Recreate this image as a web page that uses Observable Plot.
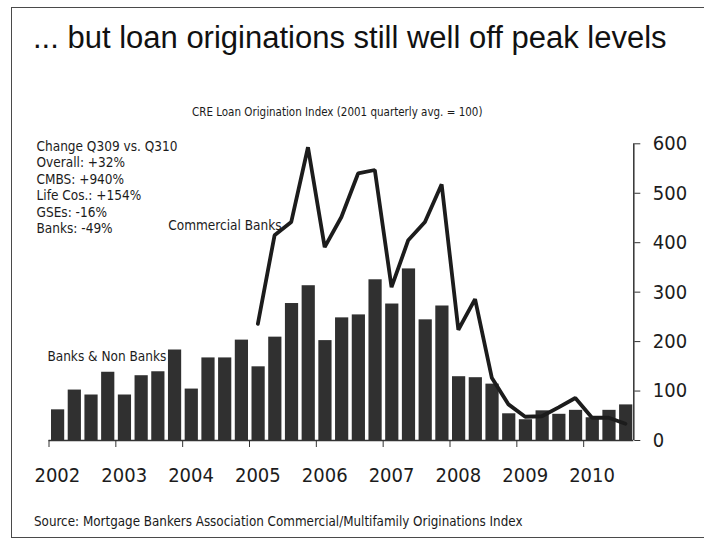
<!DOCTYPE html>
<html>
<head>
<meta charset="utf-8">
<script src="https://cdn.jsdelivr.net/npm/d3@7"></script>
<script src="https://cdn.jsdelivr.net/npm/@observablehq/plot@0.6"></script>
<style>
  body { margin: 0; background: #fff; }
  #slide { position: relative; width: 704px; height: 540px; overflow: hidden; background: #fff;
           font-family: "DejaVu Sans Condensed", "DejaVu Sans", sans-serif; color: #1a1a1a; }
  #frame { position: absolute; left: 11px; top: 7px; width: 720px; height: 531px; border: 1.5px solid #4a4a4a; box-sizing: border-box; }
  #title { position: absolute; left: 33px; top: 22px; font-family: "Liberation Sans", Arial, sans-serif;
           font-size: 31px; line-height: 1; white-space: nowrap; color: #111; }
  #subtitle { position: absolute; left: 192px; top: 107px; font-size: 11.5px; line-height: 1; white-space: nowrap; }
  #source { position: absolute; left: 34px; top: 515px; font-size: 13.3px; line-height: 1; white-space: nowrap; }
  #chart { position: absolute; left: 0; top: 120px; }
</style>
</head>
<body>
<div id="slide">
  <div id="frame"></div>
  <div id="title">... but loan originations still well off peak levels</div>
  <div id="subtitle">CRE Loan Origination Index (2001 quarterly avg. = 100)</div>
  <div id="chart"></div>
  <div id="source">Source: Mortgage Bankers Association Commercial/Multifamily Originations Index</div>
</div>
<script>
// ---- data ----
const quarters = [
  "2002Q1","2002Q2","2002Q3","2002Q4",
  "2003Q1","2003Q2","2003Q3","2003Q4",
  "2004Q1","2004Q2","2004Q3","2004Q4",
  "2005Q1","2005Q2","2005Q3","2005Q4",
  "2006Q1","2006Q2","2006Q3","2006Q4",
  "2007Q1","2007Q2","2007Q3","2007Q4",
  "2008Q1","2008Q2","2008Q3","2008Q4",
  "2009Q1","2009Q2","2009Q3","2009Q4",
  "2010Q1","2010Q2","2010Q3"
];
const banksAndNonBanks = [
  62, 102, 92, 138,
  92, 131, 139, 183,
  104, 167, 167, 203,
  149, 209, 277, 313,
  202, 248, 254, 325,
  276, 347, 244, 272,
  129, 127, 114, 54,
  42, 60, 53, 61,
  46, 61, 72
];
const commercialBanks = [
  null, null, null, null,
  null, null, null, null,
  null, null, null, null,
  236, 415, 442, 593,
  391, 452, 540, 547,
  310, 405, 442, 518,
  224, 286, 127, 73,
  48, 49, 67, 86,
  46, 46, 34
];
const yTicks = [0, 100, 200, 300, 400, 500, 600];
const yearLabels = ["2002","2003","2004","2005","2006","2007","2008","2009","2010"];
const changeNotes = [
  "Change Q309 vs. Q310",
  "Overall: +32%",
  "CMBS: +940%",
  "Life Cos.: +154%",
  "GSEs: -16%",
  "Banks: -49%"
];
const seriesLabels = [
  {label: "Commercial Banks", quarter: "2005Q2", series: "commercial"},
  {label: "Banks & Non Banks", quarter: "2003Q4", series: "total"}
];

// ---- build table ----
const toT = q => +q.slice(0, 4) + (+q.slice(5) - 1) / 4;
const rows = quarters.map((q, i) => ({q, t: toT(q), total: banksAndNonBanks[i], commercial: commercialBanks[i]}));
const xMin = toT(quarters[0]);
const xMax = toT(quarters[quarters.length - 1]) + 0.25;
const labelRows = seriesLabels.map(s => {
  const r = rows.find(d => d.q === s.quarter);
  return {label: s.label, x: r.t + 0.125, y: r[s.series], series: s.series};
});

const ink = "#1c1c1c";
const chart = Plot.plot({
  width: 704,
  height: 380,
  marginTop: 23.3,
  marginBottom: 60,
  marginLeft: 48.5,
  marginRight: 70.7,
  x: {domain: [xMin, xMax], axis: null},
  y: {domain: [0, 600], axis: null},
  style: {fontFamily: '"DejaVu Sans Condensed", "DejaVu Sans", sans-serif', color: ink, background: "transparent", overflow: "visible"},
  marks: [
    Plot.rectY(rows, {x1: "t", x2: d => d.t + 0.25, y: "total", fill: "#303030", insetLeft: 2.5, insetRight: 1}),
    Plot.ruleY([0], {stroke: "#333", strokeWidth: 1.5}),
    Plot.ruleX([xMax], {y1: 0, y2: 600, stroke: "#333", strokeWidth: 1.5}),
    Plot.axisY({anchor: "right", ticks: yTicks, tickSize: 6, tickPadding: 13, fontSize: 20, tickFormat: d => String(d), stroke: "#333"}),
    Plot.axisX({anchor: "bottom", ticks: yearLabels.map(Number), tickSize: 7, tickFormat: () => "", stroke: "#333"}),
    Plot.axisX({anchor: "bottom", ticks: yearLabels.map(y => +y + 0.125), tickSize: 0, tickPadding: 27, fontSize: 20,
                tickFormat: d => yearLabels.find(y => +y === Math.floor(d))}),
    Plot.lineY(rows.filter(d => d.commercial != null), {x: d => d.t + 0.125, y: "commercial", stroke: ink, strokeWidth: 3.8, strokeLinejoin: "miter"}),
    Plot.text([changeNotes.join("\n")], {frameAnchor: "top-left", lineAnchor: "top", textAnchor: "start", dx: -12.5, dy: -4.4,
                fontSize: 13.5, lineHeight: 1.215, fill: ink}),
    Plot.text(labelRows.filter(d => d.series === "commercial"), {x: "x", y: "y", text: "label", textAnchor: "end", dx: 7, dy: -10, fontSize: 13.5, fill: ink}),
    Plot.text(labelRows.filter(d => d.series === "total"), {x: "x", y: "y", text: "label", textAnchor: "end", dx: -8, dy: 6.5, fontSize: 13.5, fill: ink})
  ]
});
document.getElementById("chart").appendChild(chart);
</script>
</body>
</html>
